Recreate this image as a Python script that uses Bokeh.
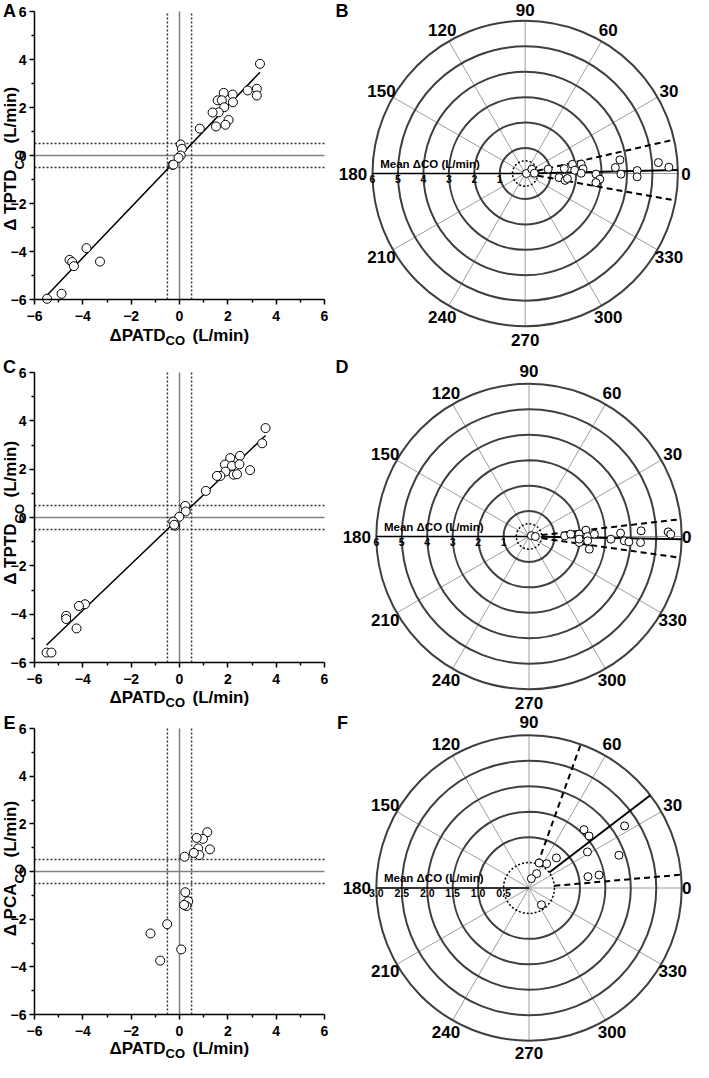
import numpy as np
from bokeh.plotting import figure
from bokeh.models import Range1d, FixedTicker, LinearAxis
from bokeh.layouts import column, row
from bokeh.embed import file_html
from bokeh.resources import INLINE
from bokeh.core.properties import value

FONT = "Liberation Sans"

# ---------------- data ----------------
# Panel A: dPATD vs dTPTD
a_x = [3.33, 3.2, 3.2, 2.82, 2.2, 2.21, 1.83, 1.58, 1.75, 1.85, 1.62, 1.37, 2.03, 1.9, 1.51, 0.84,
       0.05, 0.1, 0.05, -0.04, -0.29, -0.25, -4.55, -4.44, -4.37, -3.85, -3.29, -4.88, -5.48]
a_y = [3.82, 2.78, 2.5, 2.71, 2.54, 2.22, 2.61, 2.3, 2.3, 2.01, 1.8, 1.79, 1.48, 1.28, 1.21, 1.12,
       0.46, 0.28, 0.0, -0.1, -0.39, -0.38, -4.35, -4.44, -4.61, -3.86, -4.42, -5.76, -5.97]
# Panel C
c_x = [3.56, 3.42, 2.5, 2.1, 1.88, 2.17, 2.48, 1.9, 1.69, 1.55, 2.24, 2.38, 2.92, 1.09, 0.24, 0.26,
       -0.01, -0.26, -0.18, -0.22, -3.91, -4.16, -4.69, -4.69, -4.26, -5.5, -5.3]
c_y = [3.70, 3.07, 2.55, 2.46, 2.19, 2.14, 2.2, 1.9, 1.72, 1.72, 1.77, 1.79, 1.96, 1.1, 0.48, 0.25,
       0.03, -0.17, -0.34, -0.3, -3.59, -3.66, -4.07, -4.2, -4.59, -5.59, -5.59]
# Panel E: dPATD vs dPCA
e_x = [1.15, 0.97, 0.71, 0.77, 0.82, 0.59, 1.26, 0.21, 0.24, 0.36, 0.29, 0.19, -0.51, -1.2, -0.8, 0.07]
e_y = [1.65, 1.37, 1.41, 0.97, 0.69, 0.78, 0.93, 0.62, -0.87, -1.25, -1.45, -1.4, -2.21, -2.6, -3.74, -3.27]

# Polar panels: radius (mean dCO, L/min) and angle (deg)
b_r = [0.05, 0.31, 0.36, 0.92, 1.55, 1.89, 1.95, 2.23, 2.28, 2.2, 1.34, 1.59, 1.67, 2.78, 2.94, 2.8,
       3.55, 3.76, 3.76, 4.4, 4.4, 5.25, 5.65]
b_theta = [0, 33, 2, 10.7, 7, 11, 3.8, 9.5, 4.5, 0.3, -6.8, -9.8, -6.8, -0.5, -4.4, -7.3,
           3.8, 8.2, -0.4, 1.5, -1.7, 4.7, 2.5]
d_r = [0.1, 0.25, 1.4, 1.64, 1.97, 2.25, 2.3, 2.57, 1.99, 1.97, 2.31, 2.42, 3.22, 3.6, 3.75, 3.93,
       4.41, 4.39, 5.47, 5.57]
d_theta = [20, 0, 1, 3.2, 2.7, 6.4, 0, 2, -6.8, -3.0, -4.2, -11.9, -1.9, 2.1, -2.6, -3.1,
           2.9, -3.1, 1.9, 0.9]
f_r = [2.24, 1.575, 1.56, 1.35, 1.88, 1.18, 1.4, 0.8, 0.59, 0.53, 0.32, 0.19, 0.41]
f_theta = [33, 46.7, 40.9, 31.7, 20, 10.9, 10.5, 47.7, 54, 68, 62, 76, -53.5]

# polar mean angle and limits of agreement (deg)
b_lines = [1.3, 12.8, -10.2]
d_lines = [-1.0, 6.5, -8.0]
f_lines = [37.4, 70.2, 5.0]

scatter_ticks = [-6, -4, -2, 0, 2, 4, 6]
scatter_minor = [-5, -3, -1, 1, 3, 5]
agree_band = [-0.5, 0.5]
polar_angle_ticks = [0, 30, 60, 90, 120, 150, 180, 210, 240, 270, 300, 330]
bd_rings = [1, 2, 3, 4, 5, 6]
bd_ring_labels = ["6", "5", "4", "3", "2", "1"]
bd_ring_label_vals = [6, 5, 4, 3, 2, 1]
f_rings = [1.0, 1.5, 2.0, 2.5, 3.0]
f_ring_labels = ["3.0", "2.5", "2.0", "1.5", "1.0", "0.5"]
f_ring_label_vals = [3.0, 2.5, 2.0, 1.5, 1.0, 0.5]

LEFT_W, RIGHT_W = 332, 361
ROW_H = [356, 356, 350]
TF = value(FONT)


def txt(p, x, y, text, size, align="center", baseline="middle", angle=0.0):
    p.text(x=[x], y=[y], text=[text], text_font=TF, text_font_size=size,
           text_font_style="bold", text_align=align, text_baseline=baseline,
           angle=angle, text_color="black")


def style_axis(ax):
    ax.axis_line_width = 1.5
    ax.axis_line_color = "black"
    ax.major_tick_line_width = 1.5
    ax.minor_tick_line_width = 1.5
    ax.major_tick_line_color = "black"
    ax.minor_tick_line_color = "black"
    ax.major_tick_out = 5
    ax.major_tick_in = 0
    ax.minor_tick_out = 3
    ax.minor_tick_in = 0
    ax.major_label_text_font = FONT
    ax.major_label_text_font_size = "14px"
    ax.major_label_text_font_style = "bold"
    ax.major_label_text_color = "black"


def scatter_panel(letter, xs, ys, ymain, fit, h, top, fh, anchor_off, xtitle_y):
    left, right, fw = 34, 8, 290
    bottom = h - top - fh
    lo, hi = scatter_ticks[0], scatter_ticks[-1]
    span = hi - lo
    sx, sy = fw / span, fh / span
    p = figure(width=LEFT_W, height=h,
               x_range=Range1d(lo - left / sx, hi + right / sx),
               y_range=Range1d(lo - bottom / sy, hi + top / sy),
               min_border=0, x_axis_location=None, y_axis_location=None,
               output_backend="svg", toolbar_location=None)
    p.outline_line_color = None
    p.grid.visible = False

    xaxis = LinearAxis(fixed_location=lo, bounds=(lo, hi),
                       ticker=FixedTicker(ticks=scatter_ticks, minor_ticks=scatter_minor))
    yaxis = LinearAxis(fixed_location=lo, bounds=(lo, hi),
                       ticker=FixedTicker(ticks=scatter_ticks, minor_ticks=scatter_minor))
    style_axis(xaxis)
    style_axis(yaxis)
    xaxis.major_label_standoff = 6
    yaxis.major_label_standoff = 3
    p.add_layout(xaxis, "below")
    p.add_layout(yaxis, "left")

    # reference lines
    p.segment(x0=[0, lo], y0=[lo, 0], x1=[0, hi], y1=[hi, 0], line_color="#808080", line_width=1.5)
    band = agree_band
    p.segment(x0=band + [lo, lo], y0=[lo, lo] + band, x1=band + [hi, hi], y1=[hi, hi] + band,
              line_color="#333333", line_width=1.5, line_dash="2 2")

    if fit:
        k, b0 = np.polyfit(xs, ys, 1)
        xx = np.array([min(xs), max(xs)])
        p.line(xx, k * xx + b0, line_color="black", line_width=1.5)

    p.scatter(xs, ys, size=9, fill_color="white", line_color="black", line_width=1)

    def dx(px):
        return lo + (px - left) / sx

    def dy(py):
        return hi - (py - top) / sy

    txt(p, dx(9), dy(10), letter, "18px")
    # x title
    ax_anchor = 165
    txt(p, dx(ax_anchor), dy(xtitle_y), "\u0394PATD", "17px", align="right")
    txt(p, dx(ax_anchor), dy(xtitle_y + 5), "CO", "13px", align="left")
    txt(p, dx(ax_anchor + 27), dy(xtitle_y), "(L/min)", "17px", align="left")
    # y title (rotated)
    y0 = top + fh / 2
    ya = y0 + anchor_off
    ang = np.pi / 2
    txt(p, dx(9.5), dy(ya), ymain, "17px", align="right", angle=ang)
    txt(p, dx(18.5), dy(ya), "CO", "13px", align="left", angle=ang)
    txt(p, dx(9.5), dy(ya - 26), "(L/min)", "17px", align="left", angle=ang)
    return p


def polar_panel(letter, rs, ths, lines, rings, rl_vals, rl_text, excl, rmax, h, cx, cy, ppu,
                letter_xy, rl_size):
    p = figure(width=RIGHT_W, height=h,
               x_range=Range1d(-cx / ppu, (RIGHT_W - cx) / ppu),
               y_range=Range1d(-(h - cy) / ppu, cy / ppu),
               min_border=0, x_axis_location=None, y_axis_location=None,
               output_backend="svg", toolbar_location=None)
    p.outline_line_color = None
    p.grid.visible = False

    ang = np.deg2rad(np.array(polar_angle_ticks, dtype=float))
    n = len(ang)
    p.segment(x0=np.zeros(n), y0=np.zeros(n), x1=rmax * np.cos(ang), y1=rmax * np.sin(ang),
              line_color="#9e9e9e", line_width=1)
    p.circle(x=np.zeros(len(rings)), y=np.zeros(len(rings)), radius=rings,
             fill_color=None, line_color="#3f3f3f", line_width=2)
    p.circle(x=[0], y=[0], radius=[excl], fill_color=None, line_color="black",
             line_width=1.5, line_dash="2 2")
    p.segment(x0=[0], y0=[0], x1=[-rmax], y1=[0], line_color="black", line_width=1.5)

    la = np.deg2rad(np.array(lines, dtype=float))
    p.segment(x0=[excl * np.cos(la[0])], y0=[excl * np.sin(la[0])],
              x1=[rmax * np.cos(la[0])], y1=[rmax * np.sin(la[0])],
              line_color="black", line_width=2)
    p.segment(x0=excl * np.cos(la[1:]), y0=excl * np.sin(la[1:]),
              x1=rmax * np.cos(la[1:]), y1=rmax * np.sin(la[1:]),
              line_color="black", line_width=2, line_dash="6 4")

    r = np.array(rs, dtype=float)
    t = np.deg2rad(np.array(ths, dtype=float))
    p.scatter(r * np.cos(t), r * np.sin(t), size=8, fill_color="white",
              line_color="black", line_width=1)

    # angle labels
    for a, s in zip(ang, polar_angle_ticks):
        if s == 0:
            rr, al = min(156, RIGHT_W - cx - 11.5), "left"
        elif s == 180:
            rr, al = 158, "right"
        elif s == 90:
            rr, al = min(166, cy - 9.5), "center"
        elif s == 270:
            rr, al = min(166, h - cy - 9.5), "center"
        else:
            rr, al = 166, "center"
        rr = rr / ppu
        txt(p, rr * np.cos(a), rr * np.sin(a), str(s), "17px", align=al)

    # radial labels
    p.text(x=-np.array(rl_vals, dtype=float), y=np.full(len(rl_vals), -5 / ppu), text=rl_text,
           text_font=TF, text_font_size=rl_size, text_font_style="bold", text_align="center",
           text_baseline="middle", text_color="black")
    txt(p, -145 / ppu, 10 / ppu, "Mean \u0394CO (L/min)", "11.5px", align="left")
    # panel letter
    txt(p, (letter_xy[0] - cx) / ppu, (cy - letter_xy[1]) / ppu, letter, "18px")
    return p


pA = scatter_panel("A", a_x, a_y, "\u0394 TPTD", True, ROW_H[0], 11, 288, 14, 335)
pC = scatter_panel("C", c_x, c_y, "\u0394 TPTD", True, ROW_H[1], 16, 290, 6, 341)
pE = scatter_panel("E", e_x, e_y, "\u0394 PCA", False, ROW_H[2], 16, 286, 12, 336)

ppu_bd = 152.7 / 6
pB = polar_panel("B", b_r, b_theta, b_lines, bd_rings, bd_ring_label_vals, bd_ring_labels,
                 0.5, 6, ROW_H[0], 192.7, 173, ppu_bd, (9.5, 10), "10.5px")
pD = polar_panel("D", d_r, d_theta, d_lines, bd_rings, bd_ring_label_vals, bd_ring_labels,
                 0.5, 6, ROW_H[1], 196.5, 180, ppu_bd, (9.5, 10), "10.5px")
pF = polar_panel("F", f_r, f_theta, f_lines, f_rings, f_ring_label_vals, f_ring_labels,
                 0.5, 3, ROW_H[2], 196.5, 175.5, 152.7 / 3, (10, 10), "10.5px")

layout = column(row(pA, pB), row(pC, pD), row(pE, pF))
open("out.html", "w").write(file_html(layout, INLINE))
